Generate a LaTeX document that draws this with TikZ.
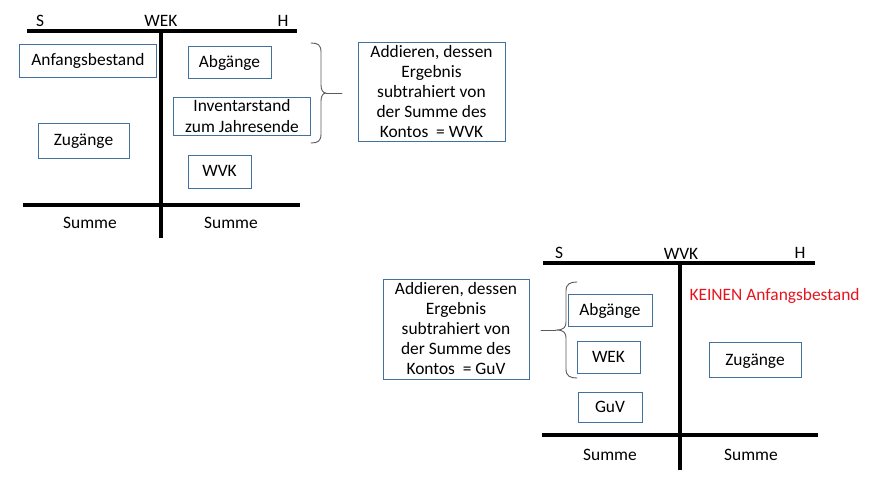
\documentclass[tikz,border=0pt]{standalone}
\usepackage{fontspec}
\setmainfont{Carlito}
\definecolor{boxblue}{RGB}{65,113,156}
\definecolor{bracegray}{RGB}{90,90,90}
\definecolor{keinred}{RGB}{230,20,30}
\tikzset{
  tline/.style={line width=3.6pt, black},
  tbox/.style={draw=boxblue, line width=0.8pt, inner sep=0pt, align=center, font=\fontsize{17.4}{20.5}\selectfont},
  onel/.style={text height=14pt, text depth=3pt},
  lbl/.style={inner sep=0pt, font=\fontsize{17.4}{20.5}\selectfont},
  bigbox/.style={draw=boxblue, line width=0.8pt, inner sep=0pt, align=center, font=\fontsize{17.4}{20}\selectfont, minimum width=147pt, minimum height=99pt},
  bracestyle/.style={draw=bracegray, line width=0.9pt, line cap=round, line join=round}
}
\begin{document}
\begin{tikzpicture}[x=1pt,y=-1pt]
\useasboundingbox (0,0) rectangle (877,481);
% ---- T-account WEK ----
\coordinate (a1tl) at (27,31);
\coordinate (a1tr) at (297,31);
\coordinate (a1vt) at (161,31);
\coordinate (a1vb) at (161,238);
\coordinate (a1bl) at (23,205);
\coordinate (a1br) at (300,205);
\draw[tline] (a1tl) -- (a1tr);
\draw[tline] (a1vt) -- (a1vb);
\draw[tline] (a1bl) -- (a1br);
\node[lbl] (s1) at (40,21) {S};
\node[lbl] (wek1) at (161,21) {WEK};
\node[lbl] (h1) at (283,21) {H};
\node[tbox, onel, minimum width=137pt, minimum height=33pt] (anf) at (88,60.5) {Anfangsbestand};
\node[tbox, onel, minimum width=83pt, minimum height=32pt] (abg1) at (229.5,62) {Abgänge};
\node[tbox, minimum width=137pt, minimum height=38pt] (inv) at (242,116) {Inventarstand\\zum Jahresende};
\node[tbox, onel, minimum width=91pt, minimum height=35pt] (zug1) at (83.5,140.5) {Zugänge};
\node[tbox, onel, minimum width=63pt, minimum height=33pt] (wvk1) at (219.5,171.5) {WVK};
\node[lbl] (sum1l) at (90,223) {Summe};
\node[lbl] (sum1r) at (231,223) {Summe};
\node[bigbox] (add1) at (431.5,92) {Addieren, dessen\\Ergebnis\\subtrahiert von\\der Summe des\\Kontos \ = WVK};
% right brace
\coordinate (b1t) at (311,43);
\coordinate (b1b) at (311,143);
\coordinate (b1m) at (326,93);
\coordinate (b1e) at (342,93);
\draw[bracestyle] (b1t) .. controls (318,43) and (321,45) .. (321,52) -- (321,85)
  .. controls (321,90) and (323,93) .. (b1m)
  .. controls (323,93) and (321,96) .. (321,101) -- (321,134)
  .. controls (321,141) and (318,143) .. (b1b);
\draw[bracestyle] (b1m) -- (b1e);
% ---- T-account WVK ----
\coordinate (a2tl) at (543,263);
\coordinate (a2tr) at (815,263);
\coordinate (a2vt) at (680,263);
\coordinate (a2vb) at (680,470);
\coordinate (a2bl) at (542,435);
\coordinate (a2br) at (818,435);
\draw[tline] (a2tl) -- (a2tr);
\draw[tline] (a2vt) -- (a2vb);
\draw[tline] (a2bl) -- (a2br);
\node[lbl] (s2) at (559,253) {S};
\node[lbl] (wvk2) at (681,254) {WVK};
\node[lbl] (h2) at (800,253) {H};
\node[bigbox, minimum width=146pt, minimum height=100pt] (add2) at (456,329) {Addieren, dessen\\Ergebnis\\subtrahiert von\\der Summe des\\Kontos \ = GuV};
\node[tbox, onel, minimum width=84pt, minimum height=32pt] (abg2) at (610,310) {Abgänge};
\node[tbox, onel, minimum width=63pt, minimum height=32pt] (wek2) at (608.5,357) {WEK};
\node[tbox, onel, minimum width=64pt, minimum height=30pt] (guv) at (610,407) {GuV};
\node[tbox, onel, minimum width=92pt, minimum height=35pt] (zug2) at (755,359.5) {Zugänge};
\node[lbl, text=keinred] (kein) at (774.5,296) {KEINEN Anfangsbestand};
\node[lbl] (sum2l) at (610,455) {Summe};
\node[lbl] (sum2r) at (751,455) {Summe};
% left brace
\coordinate (b2t) at (577,282);
\coordinate (b2b) at (577,378);
\coordinate (b2m) at (556,330);
\coordinate (b2e) at (541,330);
\draw[bracestyle] (b2t) .. controls (570,282) and (566,284) .. (566,291) -- (566,322)
  .. controls (566,327) and (564,330) .. (b2m)
  .. controls (564,330) and (566,333) .. (566,338) -- (566,369)
  .. controls (566,376) and (570,378) .. (b2b);
\draw[bracestyle] (b2m) -- (b2e);
\end{tikzpicture}
\end{document}
